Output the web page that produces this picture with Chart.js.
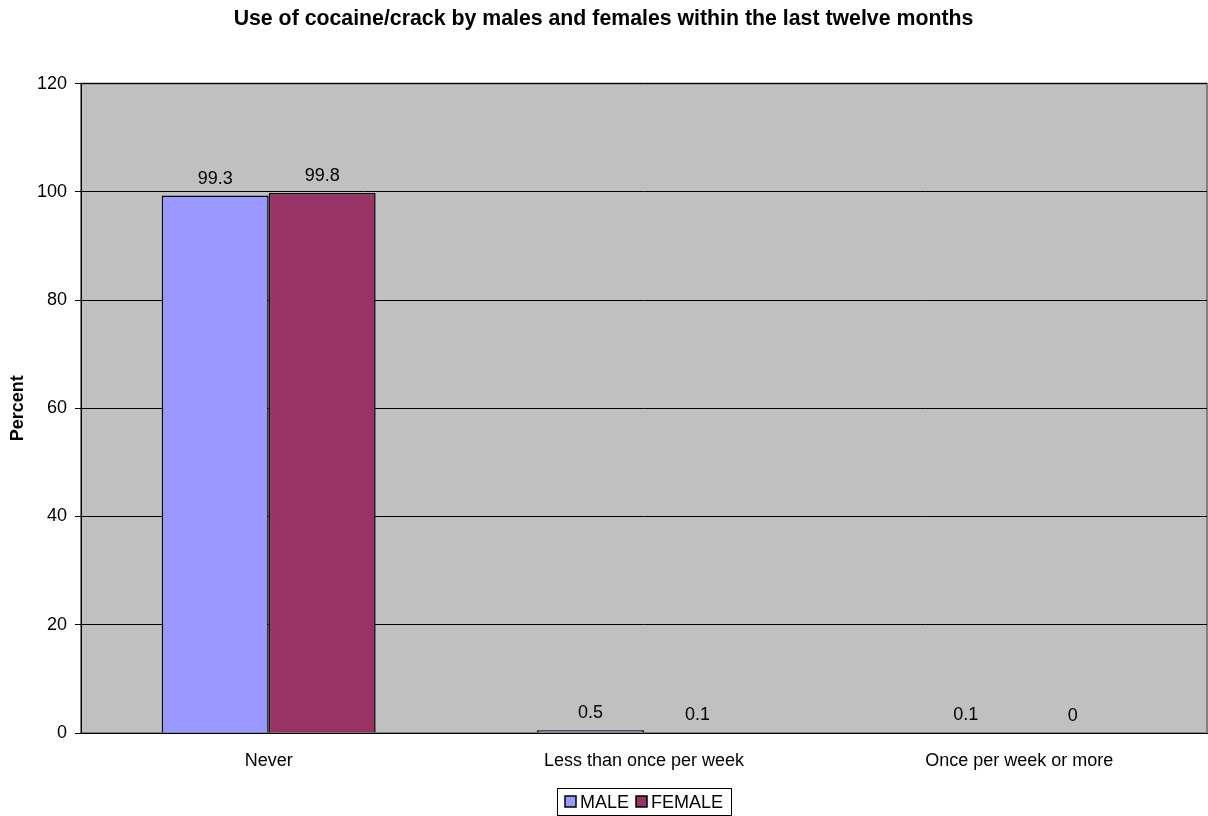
<!DOCTYPE html>
<html><head><meta charset="utf-8">
<script src="https://cdn.jsdelivr.net/npm/chart.js@4"></script>
<style>html,body{margin:0;padding:0;background:#fff}#wrap{width:1208px;height:816px}</style>
</head><body><div id="wrap"><canvas id="c" width="1208" height="816"></canvas></div>
<script>
const categories = ["Never", "Less than once per week", "Once per week or more"];
const maleValues = [99.3, 0.5, 0.1];
const femaleValues = [99.8, 0.1, 0];
const yTicks = [0, 20, 40, 60, 80, 100, 120];
const titleText = "Use of cocaine/crack by males and females within the last twelve months";
const FONT = 'Arial, "Liberation Sans", sans-serif';

const bgPlugin = {
  id: 'bg',
  beforeDraw(chart) {
    const {ctx, chartArea: a} = chart;
    ctx.save();
    ctx.fillStyle = '#C0C0C0';
    ctx.fillRect(a.left, a.top, a.right - a.left, a.bottom - a.top);
    ctx.strokeStyle = '#808080';
    ctx.lineWidth = 2;
    ctx.strokeRect(a.left, a.top, a.right - a.left, a.bottom - a.top);
    ctx.restore();
  },
  afterDatasetsDraw(chart) {
    const {ctx, chartArea: a} = chart;
    ctx.save();
    ctx.font = '18px ' + FONT;
    ctx.fillStyle = '#000';
    ctx.textAlign = 'center';
    ctx.textBaseline = 'bottom';
    chart.data.datasets.forEach((ds, i) => {
      chart.getDatasetMeta(i).data.forEach((bar, j) => {
        ctx.fillText(String(ds.data[j]), bar.x, bar.y - 8);
      });
    });
    // custom legend, centred under the plot area
    const items = chart.data.datasets.map(ds => ({label: ds.label, color: ds.backgroundColor}));
    const sw = 11, gapSw = 4, gapItem = 7, padX = 8;
    const widths = items.map(it => sw + gapSw + ctx.measureText(it.label).width);
    const total = widths.reduce((s, w) => s + w, 0) + gapItem * (items.length - 1) + padX * 2;
    const cx = (a.left + a.right) / 2;
    const bx = Math.round(cx - total / 2), by = 788, bh = 27;
    ctx.strokeStyle = '#000';
    ctx.lineWidth = 1;
    ctx.strokeRect(bx + 0.5, by + 0.5, Math.round(total), bh);
    let x = bx + padX;
    const cy = by + 14;
    ctx.textAlign = 'left';
    ctx.textBaseline = 'middle';
    items.forEach((it, i) => {
      ctx.fillStyle = it.color;
      ctx.fillRect(x, cy - 6, sw, sw);
      ctx.lineWidth = 1.5;
      ctx.strokeRect(x, cy - 6, sw, sw);
      ctx.fillStyle = '#000';
      ctx.fillText(it.label, x + sw + gapSw, cy + 1);
      x += widths[i] + gapItem;
    });
    ctx.restore();
  }
};

new Chart(document.getElementById('c'), {
  type: 'bar',
  data: {
    labels: categories,
    datasets: [
      {label: 'MALE', data: maleValues, backgroundColor: '#9999FF', borderColor: '#000', borderWidth: 1.5},
      {label: 'FEMALE', data: femaleValues, backgroundColor: '#993366', borderColor: '#000', borderWidth: 1.5}
    ]
  },
  options: {
    responsive: false,
    animation: false,
    devicePixelRatio: 1,
    layout: {padding: {left: 0, right: 1, top: 0, bottom: 23}},
    datasets: {bar: {categoryPercentage: 0.57, barPercentage: 1}},
    plugins: {
      title: {display: true, text: titleText, color: '#000', font: {family: FONT, size: 21.3, weight: 'bold'}, padding: {top: 6, bottom: 52}},
      legend: {display: false},
      tooltip: {enabled: false}
    },
    scales: {
      x: {
        grid: {display: false, drawTicks: false},
        border: {color: '#000', width: 1},
        ticks: {color: '#000', font: {family: FONT, size: 18}, padding: 17, maxRotation: 0},
        afterFit(s) { s.height = 60; }
      },
      y: {
        min: 0, max: 120,
        afterBuildTicks(s) { s.ticks = yTicks.map(v => ({value: v})); },
        grid: {color: '#000', lineWidth: 1, tickLength: 6, tickColor: '#000'},
        border: {color: '#000', width: 1},
        ticks: {color: '#000', font: {family: FONT, size: 18}, padding: 8},
        title: {display: true, text: 'Percent', color: '#000', font: {family: FONT, size: 18, weight: 'bold'}, padding: {top: 7, bottom: 0}},
        afterFit(s) { s.width = 81; }
      }
    }
  },
  plugins: [bgPlugin]
});
</script></body></html>
